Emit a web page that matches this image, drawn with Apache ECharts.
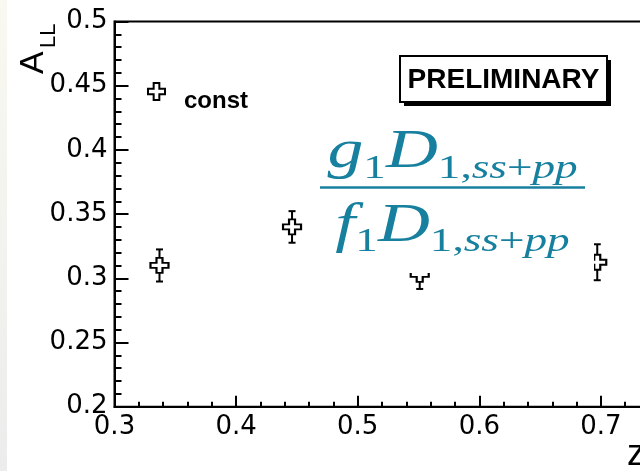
<!DOCTYPE html>
<html>
<head>
<meta charset="utf-8">
<script src="https://cdn.jsdelivr.net/npm/echarts@6/dist/echarts.min.js"></script>
<style>html,body{margin:0;padding:0;background:#fff}#c{width:640px;height:471px}</style>
</head>
<body>
<div id="c"></div>
<script>
// ---- data ----
const zValues   = [0.337, 0.446, 0.551, 0.697];
const allValues = [0.310, 0.340, 0.303, 0.3125];
const allErrors = [0.0125, 0.0123, 0.0113, 0.014];
const seriesName = 'const';
const xTickLabels = ['0.3', '0.4', '0.5', '0.6', '0.7'];
const yTickLabels = ['0.2', '0.25', '0.3', '0.35', '0.4', '0.45', '0.5'];
const yTitleMain = 'A', yTitleSub = 'LL', xTitle = 'z';
const stampText = 'PRELIMINARY';
const numerTokens = [['mi','g'],['su','1'],['mi','D'],['su','1,'],['si','ss'],['su','+'],['si','pp']];
const denomTokens = [['mi','f'],['su','1'],['mi','D'],['su','1,'],['si','ss'],['su','+'],['si','pp']];

const crossPath = 'path://M6,0H12V6H18V12H12V18H6V12H0V6H6Z';
const teal = '#17809f';
const sans = 'Liberation Sans, Arial, sans-serif';
const labelFont = 'DejaVu Sans, sans-serif';
const serif = 'Liberation Serif, Times New Roman, serif';

function tickFmt(list) {
  return function (v) {
    const hit = list.find(l => Math.abs(parseFloat(l) - v) < 1e-6);
    return hit === undefined ? '' : hit;
  };
}
const points = zValues.map((z, i) => [z, allValues[i], allErrors[i]]);
const rich = {
  mi: {fontFamily: serif, fontStyle: 'italic', fontSize: 54, lineHeight: 54, verticalAlign: 'bottom', padding: [0,0,6,0], fill: teal, color: teal},
  su: {fontFamily: serif, fontStyle: 'normal', fontSize: 34, lineHeight: 34, verticalAlign: 'bottom', fill: teal, color: teal},
  si: {fontFamily: serif, fontStyle: 'italic', fontSize: 34, lineHeight: 34, verticalAlign: 'bottom', fill: teal, color: teal}
};
const toRich = t => t.map(([s, x]) => '{' + s + '|' + x + '}').join('');

const chart = echarts.init(document.getElementById('c'), null, {renderer: 'canvas'});
const axisCommon = {
  axisLine: {show: true, onZero: false, lineStyle: {color: '#000', width: 2}},
  splitLine: {show: false},
  axisLabel: {color: '#000', fontFamily: labelFont, fontSize: 26},
};
chart.setOption({
  backgroundColor: '#fff',
  animation: false,
  grid: {left: 114.5, top: 21.5, width: 547.2, height: 385.2, outerBoundsMode: 'none', containLabel: false,
         show: true, borderColor: '#000', borderWidth: 2, backgroundColor: '#fff'},
  legend: {
    left: 147, top: 82, padding: 0, itemWidth: 17, itemHeight: 19, selectedMode: false,
    data: [{name: seriesName, icon: crossPath}],
    formatter: name => '{t|' + name + '}',
    textStyle: {color: '#000', rich: {t: {fontFamily: sans, fontWeight: 'bold', fontSize: 24, color: '#000', padding: [19, 0, 0, 14]}}}
  },
  xAxis: Object.assign({}, axisCommon, {
    type: 'value', min: 0.3, max: 0.75, interval: 0.1,
    axisTick: {show: true, inside: true, length: 11, lineStyle: {color: '#000', width: 2}},
    minorTick: {show: true, splitNumber: 5, length: 5, lineStyle: {color: '#000', width: 2}},
    axisLabel: Object.assign({}, axisCommon.axisLabel, {margin: 8, formatter: tickFmt(xTickLabels), showMaxLabel: false})
  }),
  yAxis: Object.assign({}, axisCommon, {
    type: 'value', min: 0.2, max: 0.5, interval: 0.05,
    axisTick: {show: true, inside: true, length: 14, lineStyle: {color: '#000', width: 2}},
    minorTick: {show: true, splitNumber: 5, length: 7, lineStyle: {color: '#000', width: 2}},
    axisLabel: Object.assign({}, axisCommon.axisLabel, {margin: 7, formatter: tickFmt(yTickLabels)})
  }),
  series: [
    {
      type: 'custom', name: 'err', z: 2,
      data: points,
      renderItem: function (params, api) {
        const x = api.value(0), y = api.value(1), e = api.value(2);
        const t = api.coord([x, y + e]), b = api.coord([x, y - e]);
        const st = {stroke: '#000', lineWidth: 2};
        return {type: 'group', children: [
          {type: 'line', shape: {x1: t[0], y1: t[1], x2: b[0], y2: b[1]}, style: st},
          {type: 'line', shape: {x1: t[0] - 3.5, y1: t[1], x2: t[0] + 3.5, y2: t[1]}, style: st},
          {type: 'line', shape: {x1: b[0] - 3.5, y1: b[1], x2: b[0] + 3.5, y2: b[1]}, style: st}
        ]};
      }
    },
    {
      type: 'scatter', name: seriesName, z: 3,
      data: points.map(p => [p[0], p[1]]),
      symbol: crossPath, symbolSize: [18, 15], symbolKeepAspect: false,
      itemStyle: {color: '#fff', borderColor: '#000', borderWidth: 2, opacity: 1}
    }
  ],
  graphic: [
    {type: 'rect', z: 1, silent: true, shape: {x: 0, y: 0, width: 7, height: 471},
     style: {fill: new echarts.graphic.LinearGradient(0, 0, 0, 1, [{offset: 0, color: '#f9f9f1'}, {offset: 1, color: '#ececec'}])}},
    // formula with its own white background
    {type: 'rect', z: 100, silent: true, shape: {x: 310, y: 115, width: 284, height: 158}, style: {fill: '#fff'}},
    {type: 'text', z: 101, x: 452.5, y: 186, scaleX: 1.33,
     style: {text: toRich(numerTokens), rich: rich, fill: teal, align: 'center', verticalAlign: 'bottom'}},
    {type: 'line', z: 101, shape: {x1: 320, y1: 187.5, x2: 585, y2: 187.5}, style: {stroke: teal, lineWidth: 2.5}},
    {type: 'text', z: 101, x: 452.5, y: 259.5, scaleX: 1.33,
     style: {text: toRich(denomTokens), rich: rich, fill: teal, align: 'center', verticalAlign: 'bottom'}},
    // PRELIMINARY stamp
    {type: 'rect', z: 102, shape: {x: 404, y: 60, width: 207, height: 46}, style: {fill: '#000'}},
    {type: 'rect', z: 103, shape: {x: 400, y: 56, width: 207, height: 46}, style: {fill: '#fff', stroke: '#000', lineWidth: 2}},
    {type: 'text', z: 104, x: 503.5, y: 80,
     style: {text: stampText, fontFamily: sans, fontWeight: 'bold', fontSize: 28, fill: '#000', align: 'center', verticalAlign: 'middle'}},
    // axis titles
    {type: 'text', z: 104, x: 34, y: 74, rotation: Math.PI / 2,
     style: {text: yTitleMain, fontFamily: sans, fontSize: 34, fill: '#000', align: 'left', verticalAlign: 'middle'}},
    {type: 'text', z: 104, x: 48.5, y: 48, rotation: Math.PI / 2,
     style: {text: yTitleSub, fontFamily: sans, fontSize: 22, fill: '#000', align: 'left', verticalAlign: 'middle'}},
    {type: 'text', z: 104, x: 627, y: 455,
     style: {text: xTitle, fontFamily: sans, fontSize: 36, fill: '#000', align: 'left', verticalAlign: 'middle'}}
  ]
});
</script>
</body>
</html>
